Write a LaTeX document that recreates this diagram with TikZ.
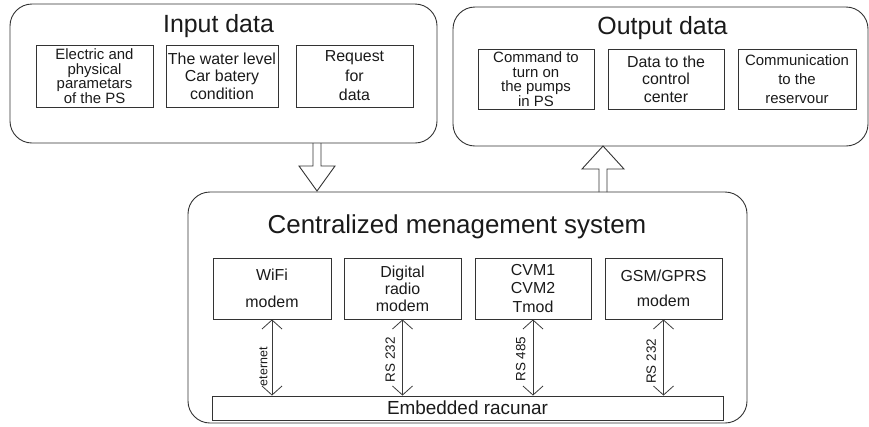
\documentclass[tikz,border=0pt]{standalone}
\usepackage{fontspec}
\setmainfont{Liberation Sans}
\usepackage{xcolor}
\usetikzlibrary{arrows.meta}
\definecolor{panelColor}{HTML}{333333}
\definecolor{boxColor}{HTML}{333333}
\definecolor{linkColor}{HTML}{3A3A3A}
\definecolor{labelTextColor}{HTML}{1A1A1A}
\def\titleIn{Input data}
\def\titleOut{Output data}
\def\titleCms{Centralized menagement system}

\tikzset{
  panel/.style={draw=panelColor, line width=0.9bp, rounded corners=22bp, inner sep=0pt},
  title/.style={anchor=base, inner sep=0pt, text=labelTextColor, font=\fontsize{25}{30}\selectfont},
  itembox/.style={draw=boxColor, line width=0.9bp, inner sep=0pt, align=center,
    text=labelTextColor, font=\fontsize{16}{#1}\selectfont},
  itembox/.default=19,
  hollow/.style={draw=panelColor, line width=0.9bp, line join=miter},
  link/.style={draw=linkColor, line width=0.8bp,
    {Straight Barb[length=9bp,width=20bp]}-{Straight Barb[length=9bp,width=20bp]}},
  linklabel/.style={rotate=90, anchor=south, text=labelTextColor, font=\fontsize{13.5}{16}\selectfont}
}

\begin{document}
\begin{tikzpicture}[x=1bp,y=-1bp]
\useasboundingbox (0, 0) rectangle (869, 426);

% panel layer
\begin{scope}
\node[panel, minimum width=427bp, minimum height=139bp] (input) at (223.5, 73.5) {};
\node[panel, minimum width=415bp, minimum height=139bp] (output) at (660.5, 76.5) {};
\node[panel, minimum width=559bp, minimum height=231bp] (cms) at (467.5, 307.5) {};
\node[title] (inTitle) at (218.5, 32) {\titleIn};
\node[title] (outTitle) at (662.5, 34) {\titleOut};
\node[title, font=\fontsize{26}{30}\selectfont] (cmsTitle) at (457, 233) {\titleCms};
\end{scope}

% input items
\begin{scope}
\node[itembox, minimum width=117bp, minimum height=62bp, font=\fontsize{15}{14.5}\selectfont] (inA) at (94.5, 76)
  {Electric and\\physical\\parametars\\of the PS};
\node[itembox=17.5, minimum width=112bp, minimum height=62bp] (inB) at (222, 76)
  {The water level\\Car batery\\condition};
\node[itembox=19.5, minimum width=117bp, minimum height=62bp] (inC) at (354.5, 76)
  {Request\\for\\data};
\end{scope}

% output items
\begin{scope}
\node[itembox, minimum width=116bp, minimum height=60bp, font=\fontsize{15}{14.5}\selectfont] (outA) at (536, 79)
  {Command to\\turn on\\the pumps\\in PS};
\node[itembox=17.5, minimum width=116bp, minimum height=60bp] (outB) at (666, 79)
  {Data to the\\control\\center};
\node[itembox, minimum width=118bp, minimum height=60bp, font=\fontsize{15}{19}\selectfont] (outC) at (797, 79)
  {Communication\\to the\\reservour};
\end{scope}

% modem items
\begin{scope}
\node[itembox=27, minimum width=118bp, minimum height=61bp] (wifi) at (272, 288.5)
  {WiFi\\modem};
\node[itembox=17, minimum width=117bp, minimum height=61bp] (radio) at (402.5, 288.5)
  {Digital\\radio\\modem};
\node[itembox=18.5, minimum width=116bp, minimum height=61bp] (cvm) at (533, 288.5)
  {CVM1\\CVM2\\Tmod};
\node[itembox=25, minimum width=117bp, minimum height=61bp] (gsm) at (663.5, 288.5)
  {GSM/GPRS\\modem};
\node[itembox, minimum width=511bp, minimum height=24bp, font=\fontsize{19}{22}\selectfont] (emb) at (467.5, 408)
  {Embedded racunar};
\end{scope}

% link layer
\begin{scope}
\draw[link] (wifi.south) -- (wifi.south |- emb.north)
  node[linklabel, pos=0.62, inner sep=4bp, font=\fontsize{12.5}{15}\selectfont] {eternet};
\draw[link] (radio.south) -- (radio.south |- emb.north)
  node[linklabel, pos=0.53, inner sep=7bp] {RS 232};
\draw[link] (cvm.south) -- (cvm.south |- emb.north)
  node[linklabel, pos=0.52, inner sep=7bp] {RS 485};
\draw[link] (gsm.south) -- (gsm.south |- emb.north)
  node[linklabel, pos=0.55, inner sep=7bp] {RS 232};
\end{scope}

% block arrows
\begin{scope}
\coordinate (dnTop) at (317, 143);
\coordinate (upBase) at (603, 192);
\draw[hollow] (dnTop) ++(-4, 0) -- ++(0, 23) -- ++(-14, 0) -- ++(18, 25)
  -- ++(18, -25) -- ++(-14, 0) -- ++(0, -23);
\draw[hollow] (upBase) ++(-4, 0) -- ++(0, -23) -- ++(-17, 0) -- ++(21, -23)
  -- ++(21, 23) -- ++(-17, 0) -- ++(0, 23);
\end{scope}

\end{tikzpicture}
\end{document}
